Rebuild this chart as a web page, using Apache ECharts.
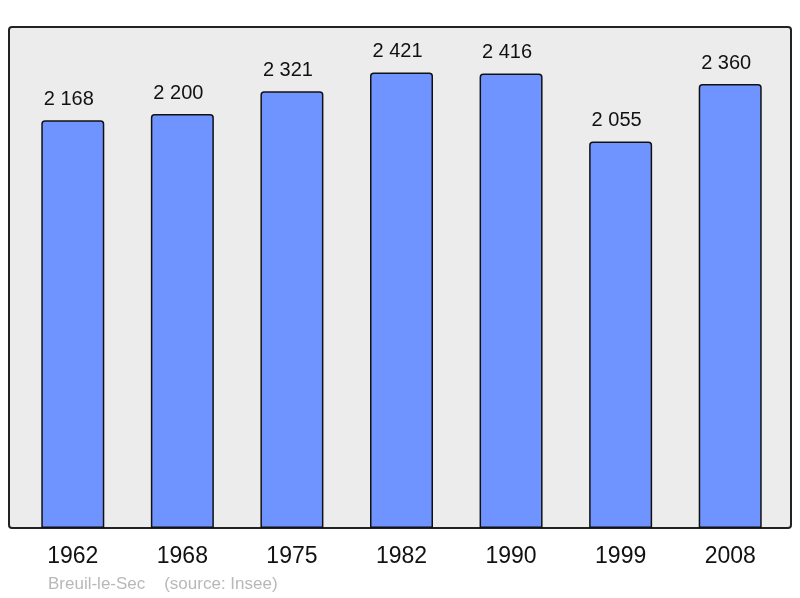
<!DOCTYPE html>
<html>
<head>
<meta charset="utf-8">
<script src="https://cdn.jsdelivr.net/npm/echarts@6/dist/echarts.min.js"></script>
<style>
  html, body { margin: 0; padding: 0; background: #fff; }
  #chart { width: 800px; height: 598px; }
</style>
</head>
<body>
<div id="chart"></div>
<script>
var years = ["1962", "1968", "1975", "1982", "1990", "1999", "2008"];
var population = [2168, 2200, 2321, 2421, 2416, 2055, 2360];
var footer = "Breuil-le-Sec    (source: Insee)";

var chart = echarts.init(document.getElementById('chart'));

// separateur des milliers : espace
function fmt(v) {
    return String(v).replace(/\B(?=(\d{3})+(?!\d))/g, ' ');
}

chart.setOption({
    animation: false,
    textStyle: { fontFamily: 'Liberation Sans, Arial, sans-serif' },
    graphic: [
        {
            type: 'rect',
            z: -10,
            shape: { x: 9, y: 27, width: 782, height: 501, r: 3 },
            style: { fill: '#ececec', stroke: '#222', lineWidth: 2 }
        },
        {
            type: 'text',
            left: 48,
            top: 576,
            style: { text: footer, fill: '#b8b8b8', fontSize: 17, fontFamily: 'Liberation Sans, Arial, sans-serif' }
        }
    ],
    grid: { left: 18, right: 15, top: 27, bottom: 70 },
    xAxis: {
        type: 'category',
        data: years,
        axisLine: { show: false },
        axisTick: { show: false },
        axisLabel: { color: '#111', fontSize: 23, margin: 17 }
    },
    yAxis: {
        type: 'value',
        min: 0,
        max: 2663,
        show: false,
        splitLine: { show: false }
    },
    series: [{
        type: 'bar',
        data: population,
        barWidth: 63,
        itemStyle: {
            color: '#7094ff',
            borderColor: '#111',
            borderWidth: 1.5,
            borderRadius: [3, 3, 0, 0]
        },
        label: {
            show: true,
            position: 'top',
            distance: 11,
            offset: [-4, 0],
            color: '#111',
            fontSize: 20,
            formatter: function (p) { return fmt(p.value); }
        }
    }]
});
</script>
</body>
</html>
